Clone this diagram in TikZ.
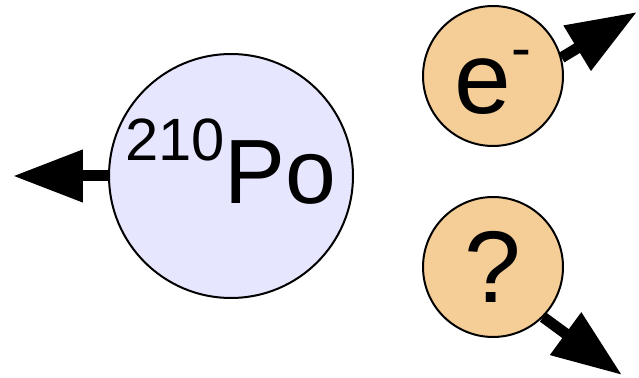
\documentclass[tikz,border=0pt]{standalone}
\usepackage{fontspec}
\setmainfont{Liberation Sans}
\usepackage{tikz}
\usetikzlibrary{arrows.meta,positioning}
\definecolor{lavender}{HTML}{E6E6FF}
\definecolor{peach}{HTML}{F5CD97}
\tikzset{
  nucleus/.style={circle, draw=black, fill=lavender, line width=0.04cm, inner sep=0pt,
                  minimum size=4.88cm, font=\fontsize{52pt}{52pt}\selectfont},
  particle/.style={circle, draw=black, fill=peach, line width=0.04cm, inner sep=0pt,
                   minimum size=2.8cm, font=\fontsize{58pt}{58pt}\selectfont},
  recoil/.style={-{Triangle[length=1.4cm, width=1cm]}, draw=black, line width=0.22cm}
}
\begin{document}
\begin{tikzpicture}[x=0.02cm, y=-0.02cm]
  \useasboundingbox (0,0) rectangle (639,378);
  \node[nucleus, text depth=0.58cm] (po) at (231,176)
    {\raisebox{0.86cm}{\fontsize{34pt}{34pt}\selectfont 210}Po};
  \node[particle, text height=1.52cm, text depth=0pt] (e) at (493,76)
    {e\raisebox{0.9cm}{\fontsize{34pt}{34pt}\selectfont -}};
  \node[particle] (q) at (493,267) {?};
  \coordinate (potip) at (13,176);
  \coordinate (etip) at (637,12);
  \coordinate (qtip) at (622,375);
  \draw[recoil] (po) -- (potip);
  \draw[recoil] (e.15) -- (etip);
  \draw[recoil] (q.-45) -- (qtip);
\end{tikzpicture}
\end{document}
